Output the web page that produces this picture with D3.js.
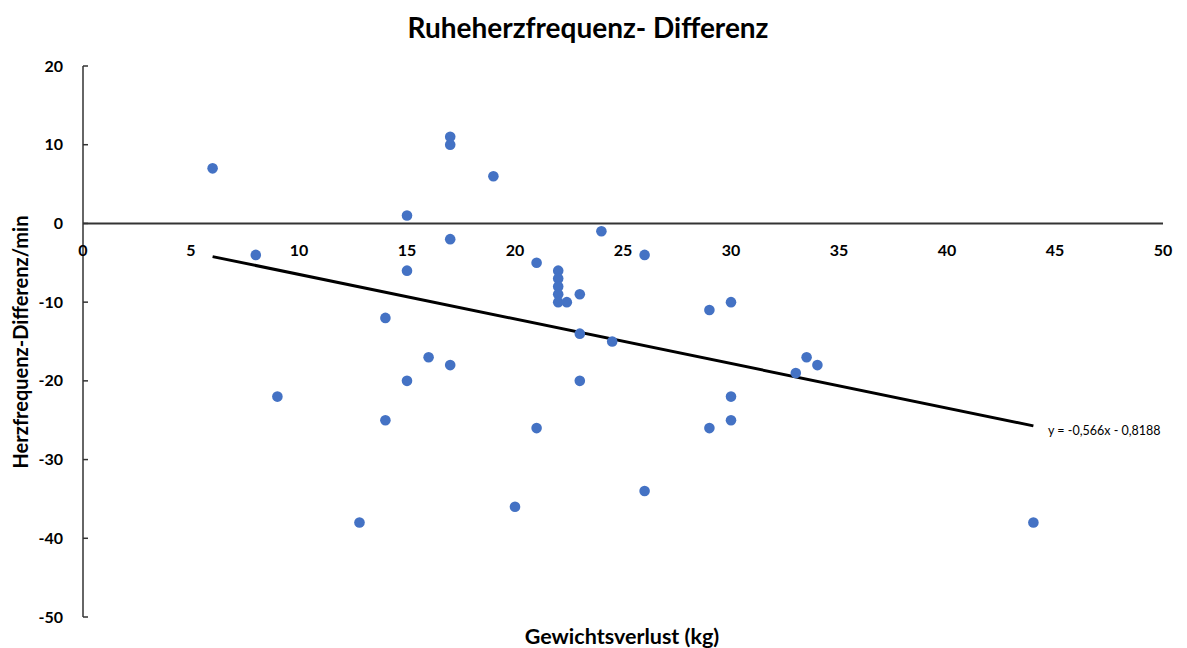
<!DOCTYPE html>
<html><head><meta charset="utf-8">
<script src="https://cdn.jsdelivr.net/npm/d3@7"></script>
<style>html,body{margin:0;padding:0;background:#fff;}svg{display:block;font-family:Lato,"Open Sans",sans-serif;}</style>
</head><body>
<svg id="c" width="1187" height="648"></svg>
<script>
const weightLoss = [6,8,9,12.8,14,14,15,15,15,16,17,17,17,17,19,20,21,21,22,22,22,22,22,22.4,23,23,23,24,24.5,26,26,29,30,29,30,30,33,33.5,34,44];
const hrDiff     = [7,-4,-22,-38,-12,-25,1,-6,-20,-17,11,10,-2,-18,6,-36,-5,-26,-6,-7,-8,-9,-10,-10,-9,-14,-20,-1,-15,-4,-34,-11,-10,-26,-22,-25,-19,-17,-18,-38];
const xTicks = [0,5,10,15,20,25,30,35,40,45,50];
const yTicks = [20,10,0,-10,-20,-30,-40,-50];
const trendSlope = -0.566, trendIntercept = -0.8188;
const trendLabel = "y = -0,566x - 0,8188";
const titleText = "Ruheherzfrequenz- Differenz";
const xLabel = "Gewichtsverlust (kg)";
const yLabel = "Herzfrequenz-Differenz/min";

const svg = d3.select("#c");
const x = d3.scaleLinear().domain([0,50]).range([83,1163]);
const y = d3.scaleLinear().domain([-50,20]).range([617,66]);

// y axis line and ticks (ticks pointing right)
svg.append("line").attr("x1",x(0)).attr("x2",x(0)).attr("y1",y(20)).attr("y2",y(-50))
  .attr("stroke","#333").attr("stroke-width",1.5);
svg.selectAll(".yt").data(yTicks).join("line")
  .attr("x1",x(0)).attr("x2",x(0)+5).attr("y1",d=>y(d)).attr("y2",d=>y(d))
  .attr("stroke","#333").attr("stroke-width",1.5);
svg.selectAll(".yl").data(yTicks).join("text")
  .attr("x",63).attr("y",d=>y(d)).attr("dy","0.35em").attr("text-anchor","end")
  .attr("font-size",16).attr("font-weight","bold").attr("fill","#000").text(d=>d);

// x axis at y=0
svg.append("line").attr("x1",x(0)).attr("x2",x(50)).attr("y1",y(0)).attr("y2",y(0))
  .attr("stroke","#333").attr("stroke-width",2);
svg.selectAll(".xl").data(xTicks).join("text")
  .attr("x",d=>x(d)).attr("y",y(0)+27).attr("dy","0.35em").attr("text-anchor","middle")
  .attr("font-size",16).attr("font-weight","bold").attr("fill","#000").text(d=>d);

// trendline
const xmin = d3.min(weightLoss), xmax = d3.max(weightLoss);
svg.append("line")
  .attr("x1",x(xmin)).attr("y1",y(trendSlope*xmin+trendIntercept))
  .attr("x2",x(xmax)).attr("y2",y(trendSlope*xmax+trendIntercept))
  .attr("stroke","#000").attr("stroke-width",3);

// points
svg.selectAll(".pt").data(weightLoss.map((v,i)=>[v,hrDiff[i]])).join("circle")
  .attr("cx",d=>x(d[0])).attr("cy",d=>y(d[1])).attr("r",5.3).attr("fill","#4472C4");

// trend label
svg.append("text").attr("x",1048).attr("y",431).attr("dy","0.35em")
  .attr("font-size",12.5).attr("fill","#000").text(trendLabel);

// title
svg.append("text").attr("x",588).attr("y",28).attr("dy","0.35em").attr("text-anchor","middle")
  .attr("font-size",28).attr("font-weight","bold").attr("fill","#000").text(titleText);

// axis titles
svg.append("text").attr("x",622).attr("y",636).attr("dy","0.35em").attr("text-anchor","middle")
  .attr("font-size",21.5).attr("font-weight","bold").attr("fill","#000").text(xLabel);
svg.append("text").attr("transform","translate(21,342) rotate(-90)").attr("dy","0.35em").attr("text-anchor","middle")
  .attr("font-size",20).attr("font-weight","bold").attr("fill","#000").text(yLabel);
</script>
</body></html>
